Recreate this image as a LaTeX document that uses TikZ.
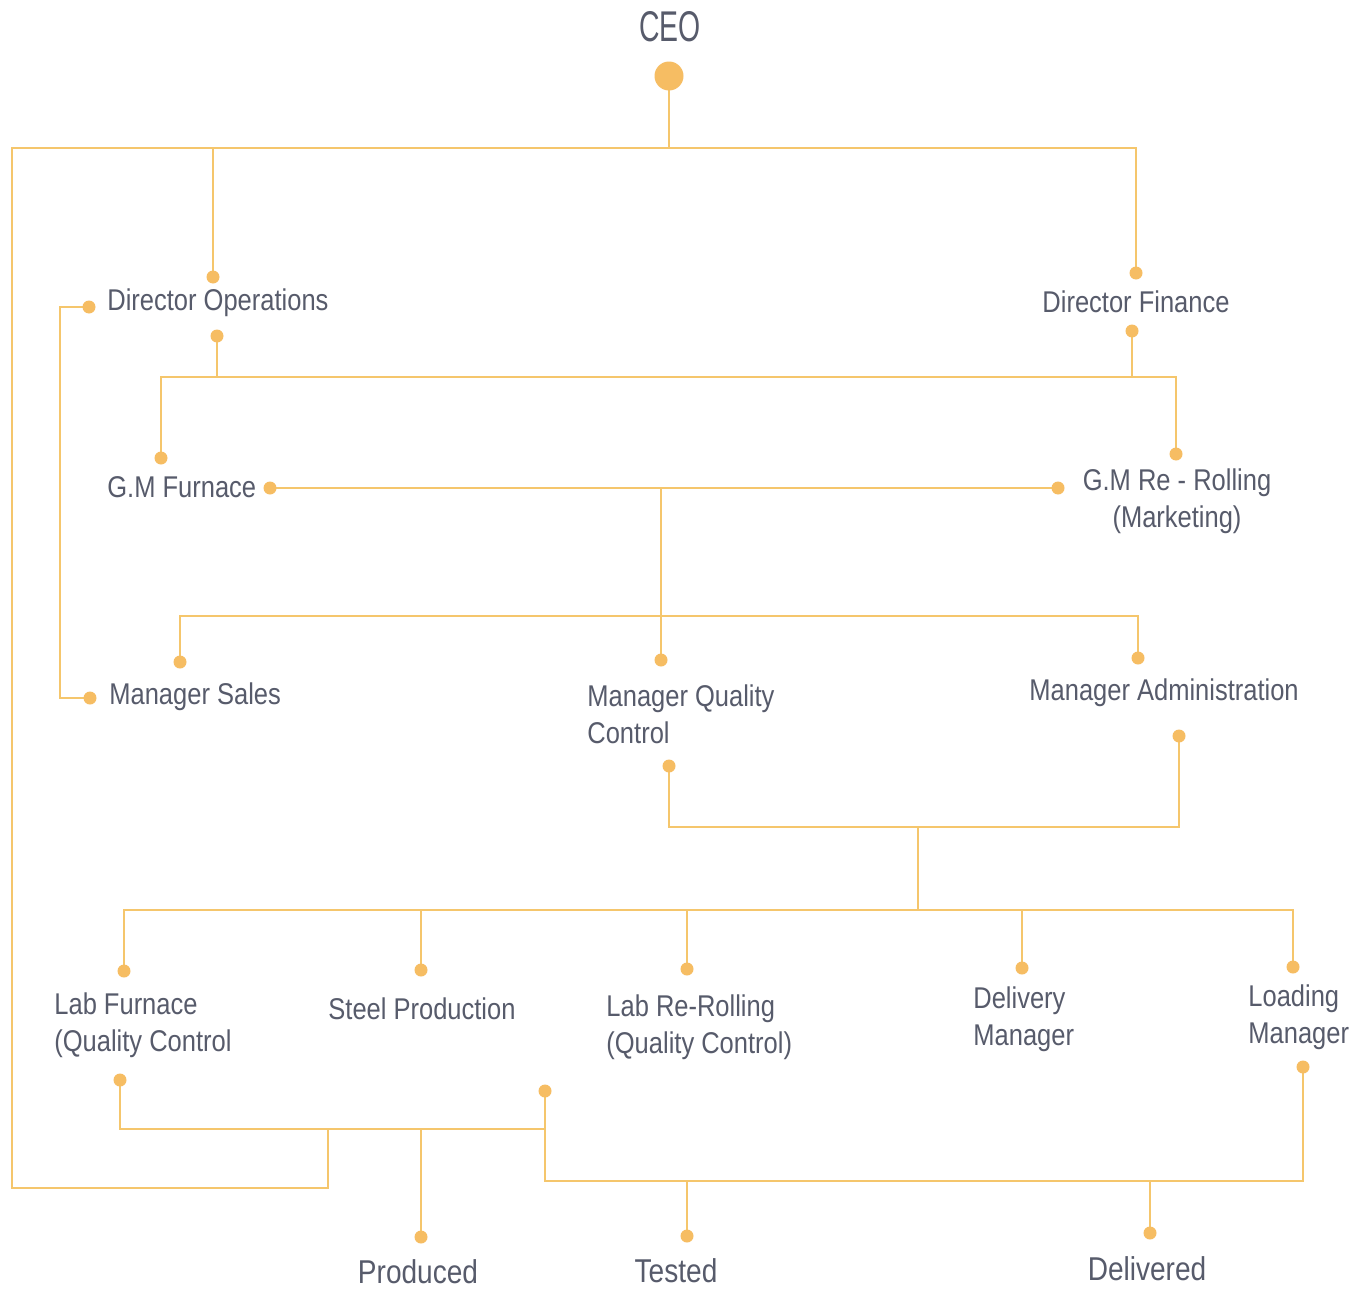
\documentclass[tikz,border=0pt]{standalone}
\usepackage{fontspec}
\usetikzlibrary{backgrounds}
\setmainfont{Liberation Sans}[FakeStretch=0.85]
\newfontfamily\ceofont{Liberation Sans}[FakeStretch=0.66]
\definecolor{linec}{HTML}{F5C66C}
\definecolor{dotc}{HTML}{F6BD63}
\definecolor{txtc}{HTML}{575B6B}
\begin{document}
\begin{tikzpicture}[x=0.5pt,y=-0.5pt,
  conn/.style={draw=linec,line width=1.4pt,line join=miter},
  dot/.style={circle,fill=dotc,inner sep=0pt,minimum size=6.5pt},
  bigdot/.style={circle,fill=dotc,inner sep=0pt,minimum size=14.5pt},
  lbl/.style={text=txtc,inner sep=0pt,font=\fontsize{15}{18.5}\selectfont},
  lbll/.style={lbl,align=left},
  lblc/.style={lbl,align=center},
  biglbl/.style={text=txtc,inner sep=0pt,font=\fontsize{16.5}{20}\selectfont},
  ceolbl/.style={text=txtc,inner sep=0pt,font=\fontsize{21.5}{24}\selectfont\ceofont}]
\useasboundingbox (0,0) rectangle (1367,1290);

% ---------- junction coordinates ----------
\coordinate (ceoJ) at (669,148);
\coordinate (topL) at (12,148);
\coordinate (topDO) at (213,148);
\coordinate (topDF) at (1136,148);
\coordinate (loopB) at (12,1188);
\coordinate (loopR) at (328,1188);
\coordinate (loopT) at (328,1129);
\coordinate (doL1) at (60,307);
\coordinate (doL2) at (60,698);
\coordinate (gmJ) at (217,377);
\coordinate (gmL) at (161,377);
\coordinate (gmR) at (1176,377);
\coordinate (dfJ) at (1132,377);
\coordinate (furJ) at (661,488);
\coordinate (mgJ) at (661,616);
\coordinate (mgL) at (180,616);
\coordinate (mgR) at (1138,616);
\coordinate (qcB) at (669,827);
\coordinate (adB) at (1179,827);
\coordinate (labJ) at (918,827);
\coordinate (labJ2) at (918,910);
\coordinate (bL) at (124,910);
\coordinate (bSP) at (421,910);
\coordinate (bLR) at (687,910);
\coordinate (bDM) at (1022,910);
\coordinate (bR) at (1293,910);
\coordinate (pL) at (120,1129);
\coordinate (pR) at (545,1129);
\coordinate (pP) at (421,1129);
\coordinate (dL) at (545,1181);
\coordinate (dR) at (1303,1181);
\coordinate (dT) at (687,1181);
\coordinate (dD) at (1150,1181);

% ---------- dots ----------
\node[bigdot] (ceo) at (669,76) {};
\node[dot] (dDO) at (213,277) {};
\node[dot] (dDF) at (1136,273) {};
\node[dot] (dDOl) at (89,307) {};
\node[dot] (dDOb) at (217,336) {};
\node[dot] (dDFb) at (1132,331) {};
\node[dot] (dGMF) at (161,458) {};
\node[dot] (dGMR) at (1176,454) {};
\node[dot] (dGMFr) at (270,488) {};
\node[dot] (dGMRl) at (1058,488) {};
\node[dot] (dMS) at (180,662) {};
\node[dot] (dMSl) at (90,698) {};
\node[dot] (dMQ) at (661,660) {};
\node[dot] (dMA) at (1138,658) {};
\node[dot] (dMQb) at (669,766) {};
\node[dot] (dMAb) at (1179,736) {};
\node[dot] (dLF) at (124,971) {};
\node[dot] (dSP) at (421,970) {};
\node[dot] (dLR) at (687,969) {};
\node[dot] (dDM) at (1022,968) {};
\node[dot] (dLM) at (1293,967) {};
\node[dot] (dLFb) at (120,1080) {};
\node[dot] (dLRb) at (545,1091) {};
\node[dot] (dLMb) at (1303,1067) {};
\node[dot] (dProd) at (421,1237) {};
\node[dot] (dTest) at (687,1236) {};
\node[dot] (dDel) at (1150,1233) {};

% ---------- connectors ----------
\begin{scope}[on background layer]
\fill[white] (0,0) rectangle (1367,1290);
\draw[conn] (ceo.center) -- (ceoJ);
\draw[conn] (loopT) -- (loopR) -- (loopB) -- (topL) -- (topDF) -- (dDF.center);
\draw[conn] (topDO) -- (dDO.center);
\draw[conn] (dDOl.center) -- (doL1) -- (doL2) -- (dMSl.center);
\draw[conn] (dDOb.center) -- (gmJ);
\draw[conn] (dGMF.center) -- (gmL) -- (gmR) -- (dGMR.center);
\draw[conn] (dDFb.center) -- (dfJ);
\draw[conn] (dGMFr.center) -- (dGMRl.center);
\draw[conn] (furJ) -- (dMQ.center);
\draw[conn] (dMS.center) -- (mgL) -- (mgR) -- (dMA.center);
\draw[conn] (dMQb.center) -- (qcB) -- (adB) -- (dMAb.center);
\draw[conn] (labJ) -- (labJ2);
\draw[conn] (dLF.center) -- (bL) -- (bR) -- (dLM.center);
\draw[conn] (bSP) -- (dSP.center);
\draw[conn] (bLR) -- (dLR.center);
\draw[conn] (bDM) -- (dDM.center);
\draw[conn] (dLFb.center) -- (pL) -- (pR);
\draw[conn] (dLRb.center) -- (dL) -- (dR) -- (dLMb.center);
\draw[conn] (pP) -- (dProd.center);
\draw[conn] (dT) -- (dTest.center);
\draw[conn] (dD) -- (dDel.center);
\end{scope}

% ---------- labels ----------
\node[ceolbl] (tCEO) at (670,27) {CEO};
\node[lbl,anchor=west] (tDO) at (107,303) {Director Operations};
\node[lbl] (tDF) at (1136,302) {Director Finance};
\node[lbl,anchor=west] (tGMF) at (107,487) {G.M Furnace};
\node[lblc] (tGMR) at (1177,501) {G.M Re - Rolling\\(Marketing)};
\node[lbl,anchor=west] (tMS) at (109,697) {Manager Sales};
\node[lbll,anchor=west] (tMQ) at (587,714) {Manager Quality\\Control};
\node[lbl,anchor=west] (tMA) at (1029,693) {Manager Administration};
\node[lbll,anchor=west] (tLF) at (54,1025) {Lab Furnace\\(Quality Control};
\node[lbl,anchor=west] (tSP) at (328,1009) {Steel Production};
\node[lbll,anchor=west] (tLR) at (606,1027) {Lab Re-Rolling\\(Quality Control)};
\node[lbll,anchor=west] (tDM) at (973,1019) {Delivery\\Manager};
\node[lbll,anchor=west] (tLM) at (1248,1017) {Loading\\Manager};
\node[biglbl] (tProd) at (418,1272) {Produced};
\node[biglbl] (tTest) at (676,1271) {Tested};
\node[biglbl] (tDel) at (1147,1269) {Delivered};
\end{tikzpicture}
\end{document}
